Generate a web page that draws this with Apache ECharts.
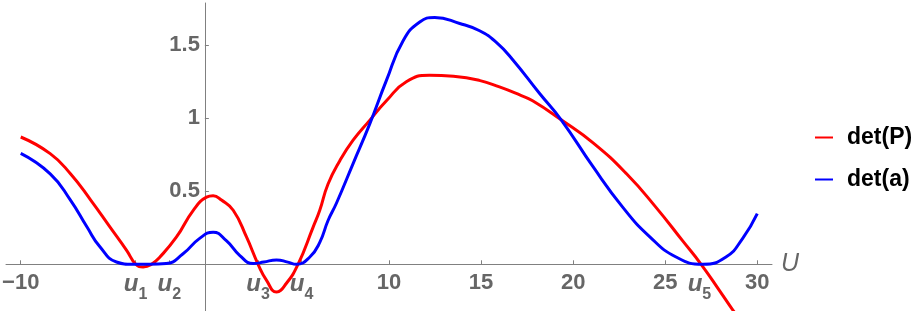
<!DOCTYPE html>
<html>
<head>
<meta charset="utf-8">
<script src="https://cdn.jsdelivr.net/npm/echarts@6/dist/echarts.min.js"></script>
<style>html,body{margin:0;padding:0;background:#fff}#c{width:919px;height:311px}</style>
</head>
<body>
<div id="c"></div>
<script>
const redX = [-10, -8.4, -7.3, -6.2, -5.15, -4.25, -3.75, -3.35, -2.9, -2.44, -1.54, -0.63, 0.09, 0.45, 0.9, 1.54, 2.26, 2.89, 3.35, 3.89, 4.43, 5.06, 5.88, 6.24, 6.69, 7.33, 8.05, 8.95, 9.86, 10.94, 12.2, 13.5, 14.9, 16.0, 17.1, 17.8, 19.35, 21.1, 22.9, 24.5, 25.95, 26.95, 27.95, 28.6, 29.3];
const redY = [0.872, 0.758, 0.62, 0.44, 0.255, 0.096, 0.0, -0.018, 0.0, 0.05, 0.187, 0.37, 0.46, 0.47, 0.44, 0.37, 0.187, 0.0, -0.11, -0.19, -0.13, 0.0, 0.255, 0.37, 0.55, 0.71, 0.85, 0.986, 1.12, 1.25, 1.295, 1.288, 1.26, 1.215, 1.16, 1.12, 0.99, 0.83, 0.62, 0.39, 0.16, 0.0, -0.18, -0.30, -0.42];
const blueX = [-10, -8.4, -7.3, -6.4, -5.7, -4.8, -3.9, -3.0, -2.1, -1.2, -0.3, 0.45, 1.18, 1.9, 2.62, 3.2, 3.89, 4.5, 4.97, 5.7, 6.24, 6.69, 7.15, 8.05, 8.95, 9.86, 10.76, 11.67, 12.48, 13.84, 14.92, 15.83, 16.73, 18.18, 19.35, 21.07, 22.7, 24.15, 25.59, 27.04, 28.3, 29.2, 30];
const blueY = [0.76, 0.62, 0.44, 0.255, 0.12, 0.016, 0.0, 0.0, 0.005, 0.07, 0.176, 0.22, 0.16, 0.06, 0.005, 0.015, 0.03, 0.015, 0.0, 0.05, 0.15, 0.30, 0.42, 0.69, 0.96, 1.26, 1.53, 1.66, 1.69, 1.65, 1.60, 1.52, 1.40, 1.17, 0.99, 0.67, 0.39, 0.19, 0.05, 0.0, 0.05, 0.176, 0.347];
const xTickValues = [-10, -3.76, -1.93, 2.89, 5.25, 10, 15, 20, 25, 26.86, 30];
const xTickLabels = ['\u221210', '{u|u}{s|1}', '{u|u}{s|2}', '{u|u}{s|3}', '{u|u}{s|4}', '10', '15', '20', '25', '{u|u}{s|5}', '30'];
const yTickValues = [0.5, 1, 1.5];
const yTickLabels = ['0.5', '1', '1.5'];
const seriesNames = ['det(P)', 'det(a)'];

const zip = (xs, ys) => xs.map((x, i) => [x, ys[i]]);
const FONT = 'Liberation Sans, Arial, sans-serif';
const GRAY = '#666666';
const AXIS = '#808080';
const GRID = {left: 6, right: 147, top: 3, bottom: 0};

const chart = echarts.init(document.getElementById('c'), null, {renderer: 'canvas'});
chart.setOption({
  animation: false,
  backgroundColor: '#fff',
  grid: Object.assign({containLabel: false, outerBoundsMode: 'none'}, GRID),
  legend: {
    orient: 'vertical', left: 810, top: 121, itemGap: 19,
    icon: 'rect', itemWidth: 18, itemHeight: 2,
    data: seriesNames,
    textStyle: {fontFamily: FONT, fontSize: 23, fontWeight: 'bold', color: '#000', padding: [0, 0, 0, 9]}
  },
  xAxis: {
    type: 'value', min: -10.8, max: 30.8, position: 'bottom',
    name: 'U', nameLocation: 'end', nameGap: 9,
    nameTextStyle: {fontFamily: FONT, fontSize: 25, fontStyle: 'italic', color: GRAY, verticalAlign: 'middle'},
    axisLine: {onZero: false, lineStyle: {color: AXIS, width: 1}},
    axisTick: {inside: true, length: 4, customValues: xTickValues, lineStyle: {color: AXIS}},
    splitLine: {show: false},
    axisLabel: {
      customValues: xTickValues, margin: 8,
      formatter: v => { const i = xTickValues.findIndex(t => Math.abs(t - v) < 1e-6); return i >= 0 ? xTickLabels[i] : ''; },
      fontFamily: FONT, fontSize: 22, fontWeight: 'bold', color: GRAY,
      rich: {
        u: {fontFamily: FONT, fontSize: 24, fontStyle: 'italic', fontWeight: 'bold', color: GRAY, verticalAlign: 'bottom'},
        s: {fontFamily: FONT, fontSize: 16, fontWeight: 'bold', color: GRAY, verticalAlign: 'bottom', padding: [0, 0, -6, 0]}
      }
    }
  },
  yAxis: {
    type: 'value', min: -0.32, max: 1.79, position: 'left',
    axisLine: {onZero: false, lineStyle: {color: AXIS, width: 1}},
    axisTick: {inside: true, length: 4, customValues: yTickValues, lineStyle: {color: AXIS}},
    splitLine: {show: false},
    axisLabel: {
      customValues: yTickValues, margin: 5,
      formatter: v => { const i = yTickValues.findIndex(t => Math.abs(t - v) < 1e-6); return i >= 0 ? yTickLabels[i] : ''; },
      fontFamily: FONT, fontSize: 22, fontWeight: 'bold', color: GRAY
    }
  },
  series: [
    {name: seriesNames[0], type: 'line', data: zip(redX, redY), smooth: 0.5, showSymbol: false, clip: true,
     lineStyle: {color: '#ff0000', width: 3}, itemStyle: {color: '#ff0000'}},
    {name: seriesNames[1], type: 'line', data: zip(blueX, blueY), smooth: 0.5, showSymbol: false, clip: true,
     lineStyle: {color: '#0000ff', width: 3}, itemStyle: {color: '#0000ff'}}
  ]
});
// Move the axes so they cross at the data origin (0,0), using the library's scales.
const origin = chart.convertToPixel({gridIndex: 0}, [0, 0]);
const H = chart.getHeight();
chart.setOption({
  xAxis: {offset: origin[1] - (H - GRID.bottom)},
  yAxis: {offset: GRID.left - origin[0]}
});
</script>
</body>
</html>
